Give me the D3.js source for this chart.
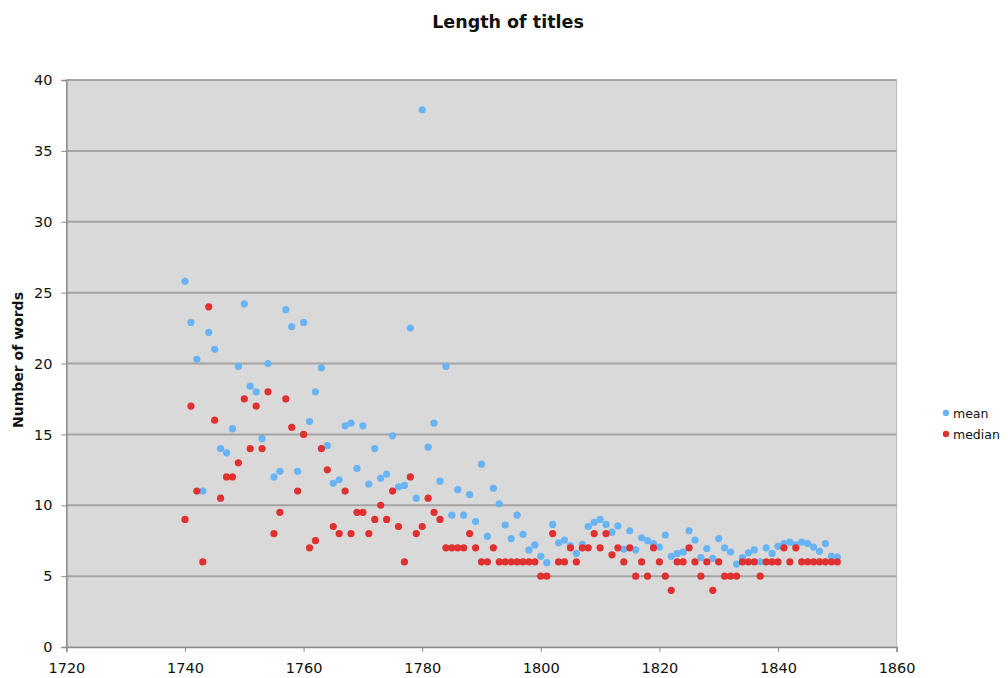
<!DOCTYPE html>
<html><head><meta charset="utf-8">
<script src="https://cdn.jsdelivr.net/npm/d3@7"></script>
<style>body{margin:0;background:#fff;}svg{display:block;font-family:"DejaVu Sans",Verdana,sans-serif;}</style>
</head><body>
<script>
const years = d3.range(1740, 1851);
const meanValues = [
 25.8,22.9,20.3,11.0,22.2,21.0,14.0,13.7,15.4,19.8,
 24.2,18.4,18.0,14.7,20.0,12.0,12.4,23.8,22.6,12.4,
 22.9,15.9,18.0,19.7,14.2,11.55,11.8,15.6,15.8,12.6,
 15.6,11.5,14.0,11.9,12.2,14.9,11.3,11.4,22.5,10.5,
 37.9,14.1,15.8,11.7,19.8,9.3,11.1,9.3,10.75,8.85,
 12.9,7.8,11.2,10.1,8.6,7.65,9.3,7.95,6.85,7.2,
 6.4,5.95,8.65,7.35,7.55,7.15,6.6,7.25,8.5,8.8,
 9.0,8.65,8.1,8.55,6.9,8.2,6.85,7.7,7.5,7.3,
 7.05,7.9,6.4,6.6,6.7,8.2,7.55,6.3,6.95,6.25,
 7.65,7.0,6.7,5.85,6.3,6.65,6.85,6.0,7.0,6.6,
 7.1,7.3,7.4,7.2,7.4,7.3,7.05,6.75,7.3,6.4,
 6.35
];
const medianValues = [
 9,17,11,6,24,16,10.5,12,12,13,
 17.5,14,17,14,18,8,9.5,17.5,15.5,11,
 15,7,7.5,14,12.5,8.5,8,11,8,9.5,
 9.5,8,9,10,9,11,8.5,6,12,8,
 8.5,10.5,9.5,9,7,7,7,7,8,7,
 6,6,7,6,6,6,6,6,6,6,
 5,5,8,6,6,7,6,7,7,8,
 7,8,6.5,7,6,7,5,6,5,7,
 6,5,4,6,6,7,6,5,6,4,
 6,5,5,5,6,6,6,5,6,6,
 6,7,6,7,6,6,6,6,6,6,
 6
];
const xTicks = [1720,1740,1760,1780,1800,1820,1840,1860];
const yTicks = [0,5,10,15,20,25,30,35,40];
const seriesNames = ["mean","median"];
const seriesColors = ["#69b4f4","#e0302f"];

const W = 1008, H = 678;
const svg = d3.select("body").append("svg").attr("width",W).attr("height",H);
const x = d3.scaleLinear().domain([1720,1860]).range([66.4, 896.6]);
const y = d3.scaleLinear().domain([0,40]).range([647, 80]);

svg.append("rect").attr("x",x(1720)).attr("y",y(40)).attr("width",x(1860)-x(1720)).attr("height",y(0)-y(40)).attr("fill","#d9d9d9").attr("stroke","#b8b8b8");

svg.append("g").selectAll("line").data(yTicks.filter(d=>d>0)).join("line")
  .attr("x1",x(1720)).attr("x2",x(1860)).attr("y1",d=>y(d)).attr("y2",d=>y(d))
  .attr("stroke","#a3a3a3").attr("stroke-width",2);

const yAxis = svg.append("g").attr("transform",`translate(${x(1720)},0)`)
  .call(d3.axisLeft(y).tickValues(yTicks).tickSize(5).tickPadding(9));
const xAxis = svg.append("g").attr("transform",`translate(0,${y(0)})`)
  .call(d3.axisBottom(x).tickValues(xTicks).tickFormat(d3.format("d")).tickSize(5).tickPadding(11));
[yAxis,xAxis].forEach(a=>{
  a.select(".domain").attr("stroke","#8c8c8c").attr("stroke-width",1.5);
  a.selectAll(".tick line").attr("stroke","#8c8c8c");
  a.selectAll("text").attr("fill","#111").attr("font-size",14.5).attr("font-family","DejaVu Sans");
});

const series = [meanValues, medianValues];
series.forEach((vals,i)=>{
  svg.append("g").selectAll("circle").data(vals).join("circle")
    .attr("cx",(d,j)=>x(years[j])).attr("cy",d=>y(d)).attr("r",3.6)
    .attr("fill",seriesColors[i]);
});

svg.append("text").attr("x",508).attr("y",28).attr("text-anchor","middle")
  .attr("font-weight","bold").attr("font-size",17.5).attr("fill","#111").text("Length of titles");
svg.append("text").attr("transform","translate(23,360) rotate(-90)").attr("text-anchor","middle")
  .attr("font-weight","bold").attr("font-size",14).attr("fill","#111").text("Number of words");

const lg = svg.append("g").attr("transform","translate(946,413)");
seriesNames.forEach((n,i)=>{
  lg.append("circle").attr("cx",0).attr("cy",i*21).attr("r",3.2).attr("fill",seriesColors[i]);
  lg.append("text").attr("x",7).attr("y",i*21+4.5).attr("font-size",12.5).attr("fill","#111").text(n);
});
</script>
</body></html>
